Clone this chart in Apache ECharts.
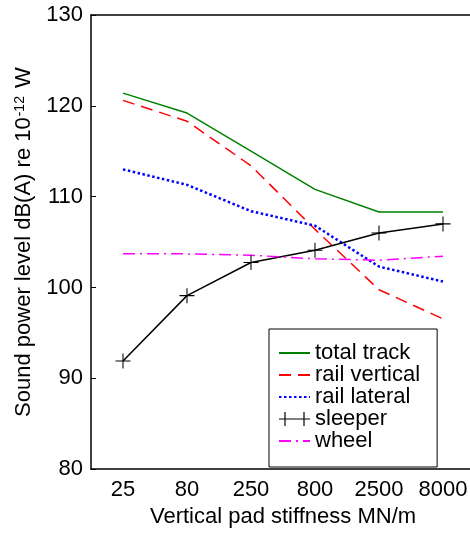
<!DOCTYPE html>
<html lang="en">
<head>
    <meta charset="UTF-8">
    <title>Sound power vs pad stiffness</title>
    <script src="https://cdn.jsdelivr.net/npm/echarts@6/dist/echarts.min.js"></script>
    <style>
        body { margin: 0; padding: 0; background: #fff; }
        /* the chart is a bit wider than the window: the right edge of the box falls just outside, as in the figure */
        #wrap { width: 470px; height: 533px; overflow: hidden; position: relative; }
        #chart { width: 480px; height: 533px; position: absolute; left: 0; top: 0; }
    </style>
</head>
<body>
<div id="wrap"><div id="chart"></div></div>
<script>
// data
const stiffness = ['25', '80', '250', '800', '2500', '8000'];
const totalTrack = [121.4, 119.2, 115.0, 110.8, 108.3, 108.3];
const railVertical = [120.6, 118.3, 113.4, 106.4, 99.75, 96.55];
const railLateral = [113.0, 111.3, 108.4, 106.8, 102.3, 100.65];
const sleeper = [91.9, 99.1, 102.75, 104.1, 106.0, 107.0];
const wheel = [103.7, 103.7, 103.55, 103.15, 103.0, 103.45];
const legendNames = ['total track', 'rail vertical', 'rail lateral', 'sleeper', 'wheel'];

const FONT = 'Liberation Sans, Arial, sans-serif';
const FS = 22;
const plus = 'path://M-1,-0.07H1V0.07H-1Z M-0.07,-1H0.07V1H-0.07Z';
// legend sample for sleeper: line with a "+" near each end
const plusLine = 'path://M0,6.4H31V7.6H0Z M5.4,0H6.6V14H5.4Z M24.4,0H25.6V14H24.4Z';

const chart = echarts.init(document.getElementById('chart'));

function lineSeries(name, data, color, dash, width) {
    return {
        name: name,
        type: 'line',
        data: data,
        symbol: 'none',
        lineStyle: { color: color, width: width || 1.5, type: dash || 'solid' },
        itemStyle: { color: color }
    };
}

const sleeperSeries = lineSeries('sleeper', sleeper, '#000000', 'solid', 1.5);
sleeperSeries.symbol = plus;
sleeperSeries.symbolSize = 15;
sleeperSeries.showSymbol = true;

const legendData = legendNames.map(n => (
    n === 'sleeper'
        ? { name: n, icon: plusLine, itemStyle: { color: '#000' } }
        : { name: n, itemStyle: { opacity: 0 } }
));

const boxTicks = { inside: true, length: 5, lineStyle: { color: '#000' } };

chart.setOption({
    animation: false,
    textStyle: { fontFamily: FONT },
    grid: { left: 91, top: 15, right: 5, bottom: 58 },
    legend: {
        orient: 'vertical',
        left: 269,
        top: 329,
        padding: [13, 17, 15, 9],
        itemWidth: 31,
        itemHeight: 14,
        itemGap: 0,
        borderColor: '#000',
        borderWidth: 1,
        backgroundColor: '#fff',
        textStyle: { fontFamily: FONT, fontSize: FS, color: '#000', lineHeight: 20 },
        data: legendData
    },
    xAxis: [{
        type: 'category',
        data: stiffness,
        position: 'bottom',
        name: 'Vertical pad stiffness MN/m',
        nameLocation: 'middle',
        nameGap: 33,
        nameTextStyle: { fontFamily: FONT, fontSize: FS, color: '#000' },
        axisLine: { lineStyle: { color: '#000', width: 1.5 } },
        axisTick: Object.assign({ alignWithLabel: true }, boxTicks),
        axisLabel: { fontFamily: FONT, fontSize: FS, color: '#000', margin: 10 },
        splitLine: { show: false }
    }, {
        type: 'category',
        data: stiffness,
        position: 'top',
        axisLine: { lineStyle: { color: '#000', width: 1.5 } },
        axisTick: Object.assign({ alignWithLabel: true }, boxTicks),
        axisLabel: { show: false },
        splitLine: { show: false }
    }],
    yAxis: [{
        type: 'value',
        min: 80,
        max: 130,
        interval: 10,
        position: 'left',
        name: '{n|Sound power level dB(A) re 10}{s|-12}{n| W}',
        nameLocation: 'middle',
        nameRotate: 90,
        nameGap: 42,
        nameTextStyle: {
            color: '#000',
            rich: {
                n: { fontFamily: FONT, fontSize: FS, color: '#000', verticalAlign: 'bottom' },
                s: { fontFamily: FONT, fontSize: 14, color: '#000', verticalAlign: 'top', padding: [0, 2, 0, 1] }
            }
        },
        axisLine: { show: true, lineStyle: { color: '#000', width: 1.5 } },
        axisTick: Object.assign({ show: true }, boxTicks),
        axisLabel: { fontFamily: FONT, fontSize: FS, color: '#000', margin: 8 },
        splitLine: { show: false }
    }, {
        type: 'value',
        min: 80,
        max: 130,
        interval: 10,
        position: 'right',
        axisLine: { show: true, lineStyle: { color: '#000', width: 1.5 } },
        axisTick: Object.assign({ show: true }, boxTicks),
        axisLabel: { show: false },
        splitLine: { show: false }
    }],
    series: [
        lineSeries('total track', totalTrack, '#008000', 'solid', 1.5),
        lineSeries('rail vertical', railVertical, '#ff0000', [12, 7], 1.5),
        lineSeries('rail lateral', railLateral, '#0000ff', [2.5, 2.5], 2.5),
        sleeperSeries,
        lineSeries('wheel', wheel, '#ff00ff', [12, 5, 2, 5], 1.5)
    ]
});
</script>
</body>
</html>
